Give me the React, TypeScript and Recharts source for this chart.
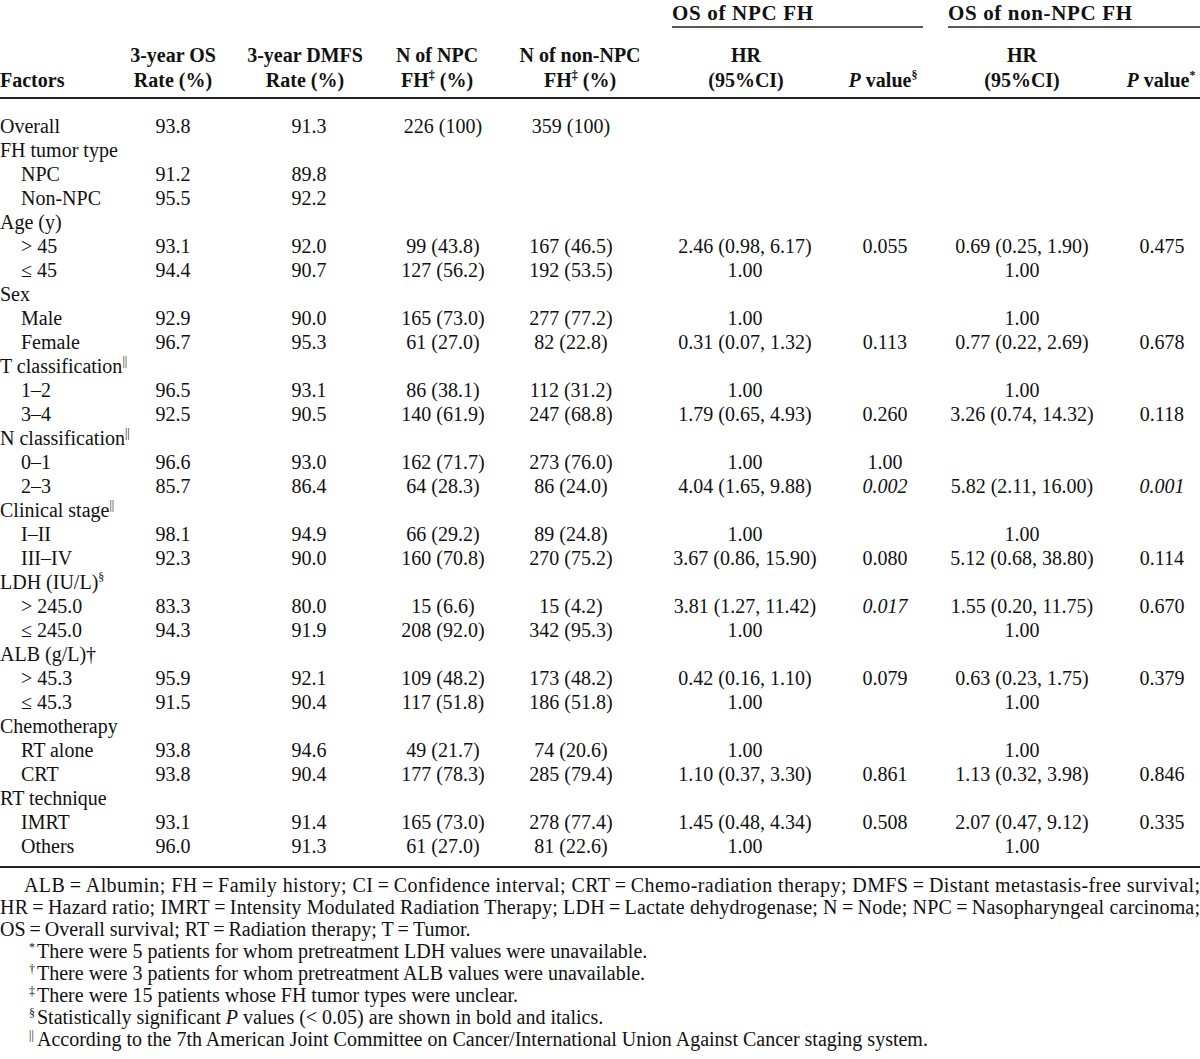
import { ScatterChart, Scatter, XAxis, YAxis, ReferenceLine } from "recharts";

// ---- table content ----
const factors = [
  "Overall", "FH tumor type", "NPC", "Non-NPC", "Age (y)", "> 45", "≤ 45", "Sex", "Male", "Female",
  "T classification^||^", "1–2", "3–4", "N classification^||^", "0–1", "2–3", "Clinical stage^||^", "I–II", "III–IV",
  "LDH (IU/L)^§^", "> 245.0", "≤ 245.0", "ALB (g/L)†", "> 45.3", "≤ 45.3", "Chemotherapy", "RT alone", "CRT",
  "RT technique", "IMRT", "Others",
];
// 0 = group heading, 1 = sub-item
const factorLevel = [0, 0, 1, 1, 0, 1, 1, 0, 1, 1, 0, 1, 1, 0, 1, 1, 0, 1, 1, 0, 1, 1, 0, 1, 1, 0, 1, 1, 0, 1, 1];

const osRate = ["93.8", "", "91.2", "95.5", "", "93.1", "94.4", "", "92.9", "96.7", "", "96.5", "92.5", "", "96.6", "85.7", "", "98.1", "92.3", "", "83.3", "94.3", "", "95.9", "91.5", "", "93.8", "93.8", "", "93.1", "96.0"];
const dmfsRate = ["91.3", "", "89.8", "92.2", "", "92.0", "90.7", "", "90.0", "95.3", "", "93.1", "90.5", "", "93.0", "86.4", "", "94.9", "90.0", "", "80.0", "91.9", "", "92.1", "90.4", "", "94.6", "90.4", "", "91.4", "91.3"];
const nNpc = ["226 (100)", "", "", "", "", "99 (43.8)", "127 (56.2)", "", "165 (73.0)", "61 (27.0)", "", "86 (38.1)", "140 (61.9)", "", "162 (71.7)", "64 (28.3)", "", "66 (29.2)", "160 (70.8)", "", "15 (6.6)", "208 (92.0)", "", "109 (48.2)", "117 (51.8)", "", "49 (21.7)", "177 (78.3)", "", "165 (73.0)", "61 (27.0)"];
const nNonNpc = ["359 (100)", "", "", "", "", "167 (46.5)", "192 (53.5)", "", "277 (77.2)", "82 (22.8)", "", "112 (31.2)", "247 (68.8)", "", "273 (76.0)", "86 (24.0)", "", "89 (24.8)", "270 (75.2)", "", "15 (4.2)", "342 (95.3)", "", "173 (48.2)", "186 (51.8)", "", "74 (20.6)", "285 (79.4)", "", "278 (77.4)", "81 (22.6)"];
const hrNpc = ["", "", "", "", "", "2.46 (0.98, 6.17)", "1.00", "", "1.00", "0.31 (0.07, 1.32)", "", "1.00", "1.79 (0.65, 4.93)", "", "1.00", "4.04 (1.65, 9.88)", "", "1.00", "3.67 (0.86, 15.90)", "", "3.81 (1.27, 11.42)", "1.00", "", "0.42 (0.16, 1.10)", "1.00", "", "1.00", "1.10 (0.37, 3.30)", "", "1.45 (0.48, 4.34)", "1.00"];
const pNpc = ["", "", "", "", "", "0.055", "", "", "", "0.113", "", "", "0.260", "", "1.00", "0.002", "", "", "0.080", "", "0.017", "", "", "0.079", "", "", "", "0.861", "", "0.508", ""];
const hrNonNpc = ["", "", "", "", "", "0.69 (0.25, 1.90)", "1.00", "", "1.00", "0.77 (0.22, 2.69)", "", "1.00", "3.26 (0.74, 14.32)", "", "", "5.82 (2.11, 16.00)", "", "1.00", "5.12 (0.68, 38.80)", "", "1.55 (0.20, 11.75)", "1.00", "", "0.63 (0.23, 1.75)", "1.00", "", "1.00", "1.13 (0.32, 3.98)", "", "2.07 (0.47, 9.12)", "1.00"];
const pNonNpc = ["", "", "", "", "", "0.475", "", "", "", "0.678", "", "", "0.118", "", "", "0.001", "", "", "0.114", "", "0.670", "", "", "0.379", "", "", "", "0.846", "", "0.335", ""];

const groupHeaders = ["OS of NPC FH", "OS of non-NPC FH"];
const headerLine1 = ["", "3-year OS", "3-year DMFS", "N of NPC", "N of non-NPC", "HR", "", "HR", ""];
const headerLine2 = ["Factors", "Rate (%)", "Rate (%)", "FH^‡^ (%)", "FH^‡^ (%)", "(95%CI)", "_P_ value^§^", "(95%CI)", "_P_ value^*^"];

const abbreviations = [
  "ALB\u2009=\u2009Albumin; FH\u2009=\u2009Family history; CI\u2009=\u2009Confidence interval; CRT\u2009=\u2009Chemo-radiation therapy; DMFS\u2009=\u2009Distant metastasis-free survival;",
  "HR\u2009=\u2009Hazard ratio; IMRT\u2009=\u2009Intensity Modulated Radiation Therapy; LDH\u2009=\u2009Lactate dehydrogenase; N\u2009=\u2009Node; NPC\u2009=\u2009Nasopharyngeal carcinoma;",
  "OS\u2009=\u2009Overall survival; RT\u2009=\u2009Radiation therapy; T\u2009=\u2009Tumor.",
];
const noteMarks = ["*", "†", "‡", "§", "||"];
const noteTexts = [
  "There were 5 patients for whom pretreatment LDH values were unavailable.",
  "There were 3 patients for whom pretreatment ALB values were unavailable.",
  "There were 15 patients whose FH tumor types were unclear.",
  "Statistically significant _P_ values (< 0.05) are shown in bold and italics.",
  "According to the 7th American Joint Committee on Cancer/International Union Against Cancer staging system.",
];

// ---- layout ----
const W = 1200;
const H = 1059;
const FONT = "'Liberation Serif', 'Times New Roman', serif";
const ROW_Y0 = 133;
const ROW_H = 24;
const GROUP_Y = 20;
const GROUP_LINE_Y = 27;
const HEAD_Y1 = 62;
const HEAD_Y2 = 87;
const HEAD_RULE_Y = 98;
const FOOT_Y0 = 892;
const FOOT_H = 22;
const SUB_INDENT = 21;
const colX = [0, 173, 309, 443, 571, 745, 885, 1022, 1162];
const headX = [0, 173, 305, 437, 580, 746, 883, 1022, 1161];
const groupX = [672, 948];
const groupWidth = [141, 184];
const groupLineEnd = [923, 1200];
const abbrevX = [24, 0, 0];
const abbrevWidth = [1176, 1200, 0];
const NOTE_MARK_X = 29;
const NOTE_TEXT_X = 37;

type Cell = {
  x: number;
  y: number;
  text: string;
  anchor: "start" | "middle" | "end";
  size: number;
  bold?: boolean;
  italic?: boolean;
  fit?: number;
};

// "^x^" = superscript, "_x_" = italic
const renderRuns = (text: string, size: number) => {
  const parts = text.split(/(\^[^^]*\^|_[^_]*_)/).filter((p) => p !== "");
  const supShift = Math.round(size * 0.38);
  let raised = false;
  return parts.map((p, i) => {
    if (p.startsWith("^")) {
      raised = true;
      return (
        <tspan key={i} fontSize={size * 0.6} dy={-supShift}>
          {p.slice(1, -1)}
        </tspan>
      );
    }
    const dy = raised ? supShift : undefined;
    raised = false;
    if (p.startsWith("_")) {
      return (
        <tspan key={i} fontStyle="italic" dy={dy}>
          {p.slice(1, -1)}
        </tspan>
      );
    }
    return (
      <tspan key={i} dy={dy}>
        {p}
      </tspan>
    );
  });
};

const renderCell = (props: any) => {
  const { cx, cy, payload } = props;
  const c = payload as Cell;
  return (
    <text
      x={cx}
      y={cy}
      textAnchor={c.anchor}
      fontFamily={FONT}
      fontSize={c.size}
      fontWeight={c.bold ? "bold" : "normal"}
      fontStyle={c.italic ? "italic" : "normal"}
      fill="#111"
      textLength={c.fit || undefined}
      lengthAdjust={c.fit ? "spacing" : undefined}
    >
      {renderRuns(c.text, c.size)}
    </text>
  );
};

const buildCells = (): Cell[] => {
  const cells: Cell[] = [];
  const columns = [osRate, dmfsRate, nNpc, nNonNpc, hrNpc, pNpc, hrNonNpc, pNonNpc];

  factors.forEach((f, i) => {
    const y = ROW_Y0 + i * ROW_H;
    cells.push({ x: factorLevel[i] ? SUB_INDENT : 0, y, text: f, anchor: "start", size: 20 });
    columns.forEach((col, c) => {
      const v = col[i];
      if (!v) return;
      const isP = c === 5 || c === 7;
      cells.push({
        x: colX[c + 1],
        y,
        text: v,
        anchor: "middle",
        size: 20,
        italic: isP && parseFloat(v) < 0.05,
      });
    });
  });

  groupHeaders.forEach((g, i) =>
    cells.push({ x: groupX[i], y: GROUP_Y, text: g, anchor: "start", size: 21, bold: true, fit: groupWidth[i] })
  );
  headerLine1.forEach((t, i) => {
    if (t) cells.push({ x: headX[i], y: HEAD_Y1, text: t, anchor: "middle", size: 20, bold: true });
  });
  headerLine2.forEach((t, i) =>
    cells.push({ x: headX[i], y: HEAD_Y2, text: t, anchor: i === 0 ? "start" : "middle", size: 20, bold: true })
  );

  abbreviations.forEach((t, i) =>
    cells.push({ x: abbrevX[i], y: FOOT_Y0 + i * FOOT_H, text: t, anchor: "start", size: 20, fit: abbrevWidth[i] })
  );
  noteTexts.forEach((t, i) => {
    const y = FOOT_Y0 + (abbreviations.length + i) * FOOT_H;
    cells.push({ x: NOTE_MARK_X, y: y - 7, text: noteMarks[i], anchor: "start", size: 12 });
    cells.push({ x: NOTE_TEXT_X, y, text: t, anchor: "start", size: 20 });
  });
  return cells;
};

const App = () => {
  const cells = buildCells();
  const bottomRuleY = ROW_Y0 + (factors.length - 1) * ROW_H + 14;
  const rule = "#222";

  return (
    <div style={{ position: "absolute", left: 0, top: 0, width: W, height: H, background: "#fff" }}>
      <ScatterChart width={W} height={H} margin={{ top: 0, right: 0, bottom: 0, left: 0 }}>
        <XAxis type="number" dataKey="x" domain={[0, W]} hide allowDataOverflow />
        <YAxis type="number" dataKey="y" domain={[0, H]} reversed hide allowDataOverflow />
        {groupX.map((gx, i) => (
          <ReferenceLine
            key={gx}
            segment={[{ x: gx, y: GROUP_LINE_Y }, { x: groupLineEnd[i], y: GROUP_LINE_Y }]}
            stroke={rule}
            strokeWidth={1.5}
          />
        ))}
        <ReferenceLine segment={[{ x: 0, y: HEAD_RULE_Y }, { x: W, y: HEAD_RULE_Y }]} stroke={rule} strokeWidth={2} />
        <ReferenceLine segment={[{ x: 0, y: bottomRuleY }, { x: W, y: bottomRuleY }]} stroke={rule} strokeWidth={2} />
        <Scatter data={cells} shape={renderCell} isAnimationActive={false} />
      </ScatterChart>
    </div>
  );
};

export default App;
